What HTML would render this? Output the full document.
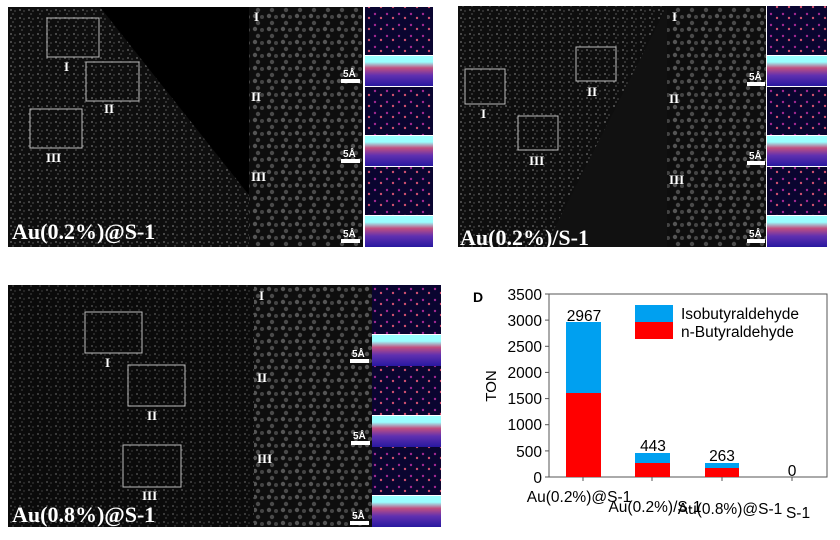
<!DOCTYPE html>
<html><head><meta charset="utf-8"><style>
html,body{margin:0;padding:0;background:#fff;}
svg{display:block}
.lab{font-family:"Liberation Serif",serif;font-weight:bold;fill:#fff;}
.s{font-family:"Liberation Sans",sans-serif;}
</style></head><body>
<svg width="840" height="540" viewBox="0 0 840 540" xmlns="http://www.w3.org/2000/svg">
<defs>
<pattern id="dots" width="9" height="8" patternUnits="userSpaceOnUse">
<rect width="9" height="8" fill="#0e0e0e"/>
<circle cx="2" cy="2" r="1" fill="#5a5a5a"/><circle cx="6" cy="3" r="0.9" fill="#444"/><circle cx="4" cy="6" r="0.9" fill="#4c4c4c"/>
</pattern>
<pattern id="big" width="14" height="13" patternUnits="userSpaceOnUse">
<rect width="14" height="13" fill="#0e0e0e"/>
<circle cx="3" cy="3" r="2.2" fill="#555"/><circle cx="10" cy="4" r="2" fill="#444"/><circle cx="6" cy="10" r="2.2" fill="#4a4a4a"/>
</pattern>
<pattern id="heat" width="12" height="11" patternUnits="userSpaceOnUse">
<rect width="12" height="11" fill="#0a0530"/>
<circle cx="3" cy="3" r="1.2" fill="#a02890"/><circle cx="9" cy="7" r="1.2" fill="#d05070"/>
</pattern>
<linearGradient id="band" x1="0" y1="0" x2="0" y2="1">
<stop offset="0" stop-color="#9ff"/><stop offset="0.2" stop-color="#9ff"/><stop offset="0.4" stop-color="#c05080"/><stop offset="0.65" stop-color="#6030b0"/><stop offset="1" stop-color="#2818a0"/>
</linearGradient>
</defs>

<!-- Top-left panel -->
<rect x="8" y="7" width="241" height="240" fill="url(#dots)"/>
<polygon points="100,7 249,7 249,195" fill="#000"/>
<rect x="249" y="7" width="114" height="240" fill="url(#big)"/>
<g fill="none" stroke="#bbb" stroke-width="1">
<rect x="47" y="18" width="52" height="39"/><rect x="86" y="62" width="53" height="39"/><rect x="30" y="109" width="52" height="39"/>
</g>
<text x="64" y="71" class="lab" font-size="13">I</text><text x="104" y="113" class="lab" font-size="13">II</text><text x="46" y="162" class="lab" font-size="13">III</text>
<text x="254" y="21" class="lab" font-size="13">I</text><text x="251" y="101" class="lab" font-size="13">II</text><text x="251" y="181" class="lab" font-size="13">III</text>
<g fill="#fff"><rect x="341" y="79" width="19" height="4"/><rect x="341" y="159" width="19" height="4"/><rect x="341" y="239" width="19" height="4"/></g>
<g class="s" fill="#fff" font-size="10" font-weight="bold"><text x="343" y="77">5Å</text><text x="343" y="157">5Å</text><text x="343" y="237">5Å</text></g>
<rect x="365" y="7" width="68" height="48" fill="url(#heat)"/><rect x="365" y="56" width="68" height="30" fill="url(#band)"/>
<rect x="365" y="87" width="68" height="48" fill="url(#heat)"/><rect x="365" y="136" width="68" height="30" fill="url(#band)"/>
<rect x="365" y="167" width="68" height="48" fill="url(#heat)"/><rect x="365" y="216" width="68" height="31" fill="url(#band)"/>
<text x="12" y="239" class="lab" font-size="22">Au(0.2%)@S-1</text>

<!-- Top-right panel -->
<rect x="458" y="6" width="209" height="241" fill="url(#dots)"/>
<polygon points="667,6 667,247 545,247" fill="#111"/>
<rect x="667" y="6" width="99" height="241" fill="url(#big)"/>
<g fill="none" stroke="#bbb" stroke-width="1">
<rect x="465" y="69" width="40" height="35"/><rect x="576" y="47" width="40" height="34"/><rect x="518" y="116" width="40" height="34"/>
</g>
<text x="481" y="118" class="lab" font-size="13">I</text><text x="587" y="96" class="lab" font-size="13">II</text><text x="529" y="165" class="lab" font-size="13">III</text>
<text x="672" y="21" class="lab" font-size="13">I</text><text x="669" y="103" class="lab" font-size="13">II</text><text x="669" y="184" class="lab" font-size="13">III</text>
<g fill="#fff"><rect x="747" y="82" width="18" height="4"/><rect x="747" y="161" width="18" height="4"/><rect x="747" y="239" width="18" height="4"/></g>
<g class="s" fill="#fff" font-size="10" font-weight="bold"><text x="749" y="80">5Å</text><text x="749" y="159">5Å</text><text x="749" y="237">5Å</text></g>
<rect x="767" y="6" width="60" height="49" fill="url(#heat)"/><rect x="767" y="56" width="60" height="30" fill="url(#band)"/>
<rect x="767" y="87" width="60" height="48" fill="url(#heat)"/><rect x="767" y="136" width="60" height="30" fill="url(#band)"/>
<rect x="767" y="167" width="60" height="48" fill="url(#heat)"/><rect x="767" y="216" width="60" height="31" fill="url(#band)"/>
<text x="460" y="245" class="lab" font-size="22">Au(0.2%)/S-1</text>

<!-- Bottom-left panel -->
<rect x="8" y="285" width="246" height="242" fill="url(#dots)"/>
<rect x="8" y="285" width="246" height="242" fill="#000" opacity="0.2"/>
<rect x="254" y="285" width="118" height="242" fill="url(#big)"/>
<g fill="none" stroke="#bbb" stroke-width="1">
<rect x="85" y="312" width="57" height="41"/><rect x="128" y="365" width="57" height="41"/><rect x="123" y="445" width="58" height="42"/>
</g>
<text x="105" y="367" class="lab" font-size="13">I</text><text x="147" y="420" class="lab" font-size="13">II</text><text x="142" y="500" class="lab" font-size="13">III</text>
<text x="259" y="300" class="lab" font-size="13">I</text><text x="257" y="382" class="lab" font-size="13">II</text><text x="257" y="463" class="lab" font-size="13">III</text>
<g fill="#fff"><rect x="350" y="359" width="19" height="4"/><rect x="351" y="441" width="19" height="4"/><rect x="350" y="521" width="19" height="4"/></g>
<g class="s" fill="#fff" font-size="10" font-weight="bold"><text x="352" y="357">5Å</text><text x="353" y="439">5Å</text><text x="352" y="519">5Å</text></g>
<rect x="372" y="285" width="69" height="49" fill="url(#heat)"/><rect x="372" y="335" width="69" height="31" fill="url(#band)"/>
<rect x="372" y="366" width="69" height="49" fill="url(#heat)"/><rect x="372" y="416" width="69" height="31" fill="url(#band)"/>
<rect x="372" y="447" width="69" height="48" fill="url(#heat)"/><rect x="372" y="496" width="69" height="31" fill="url(#band)"/>
<text x="12" y="522" class="lab" font-size="22">Au(0.8%)@S-1</text>

<!-- Chart D -->
<text x="473" y="302" class="s" font-size="14" font-weight="bold">D</text>
<rect x="549" y="294" width="278" height="183" fill="none" stroke="#555" stroke-width="1"/>
<g stroke="#555">
<line x1="545" y1="294" x2="549" y2="294"/><line x1="545" y1="320.1" x2="549" y2="320.1"/><line x1="545" y1="346.3" x2="549" y2="346.3"/><line x1="545" y1="372.4" x2="549" y2="372.4"/><line x1="545" y1="398.6" x2="549" y2="398.6"/><line x1="545" y1="424.7" x2="549" y2="424.7"/><line x1="545" y1="450.9" x2="549" y2="450.9"/><line x1="545" y1="477" x2="549" y2="477"/>
<line x1="583" y1="477" x2="583" y2="481"/><line x1="652" y1="477" x2="652" y2="481"/><line x1="722" y1="477" x2="722" y2="481"/><line x1="792" y1="477" x2="792" y2="481"/>
</g>
<g class="s" font-size="15.5" fill="#000" text-anchor="end">
<text x="542" y="300">3500</text><text x="542" y="326">3000</text><text x="542" y="352">2500</text><text x="542" y="378">2000</text><text x="542" y="404">1500</text><text x="542" y="430">1000</text><text x="542" y="457">500</text><text x="542" y="483">0</text>
</g>
<text class="s" font-size="15" transform="translate(496,386) rotate(-90)" text-anchor="middle">TON</text>
<rect x="566" y="322" width="35" height="71" fill="#00a0f0"/><rect x="566" y="393" width="35" height="84" fill="#ff0000"/>
<rect x="635" y="453" width="35" height="10" fill="#00a0f0"/><rect x="635" y="463" width="35" height="14" fill="#ff0000"/>
<rect x="705" y="463" width="34" height="5" fill="#00a0f0"/><rect x="705" y="468" width="34" height="9" fill="#ff0000"/>
<g class="s" font-size="15.5" text-anchor="middle">
<text x="584" y="321">2967</text><text x="653" y="451">443</text><text x="722" y="461">263</text><text x="792" y="476">0</text>
</g>
<rect x="635" y="305" width="38" height="17" fill="#00a0f0"/><rect x="635" y="322" width="38" height="17" fill="#ff0000"/>
<text x="681" y="319" class="s" font-size="15.5">Isobutyraldehyde</text><text x="681" y="337" class="s" font-size="15.5">n-Butyraldehyde</text>
<g class="s" font-size="15.5" text-anchor="middle">
<text x="579" y="502">Au(0.2%)@S-1</text><text x="655" y="512">Au(0.2%)/S-1</text><text x="730" y="514">Au(0.8%)@S-1</text><text x="798" y="518">S-1</text>
</g>
</svg>
</body></html>
